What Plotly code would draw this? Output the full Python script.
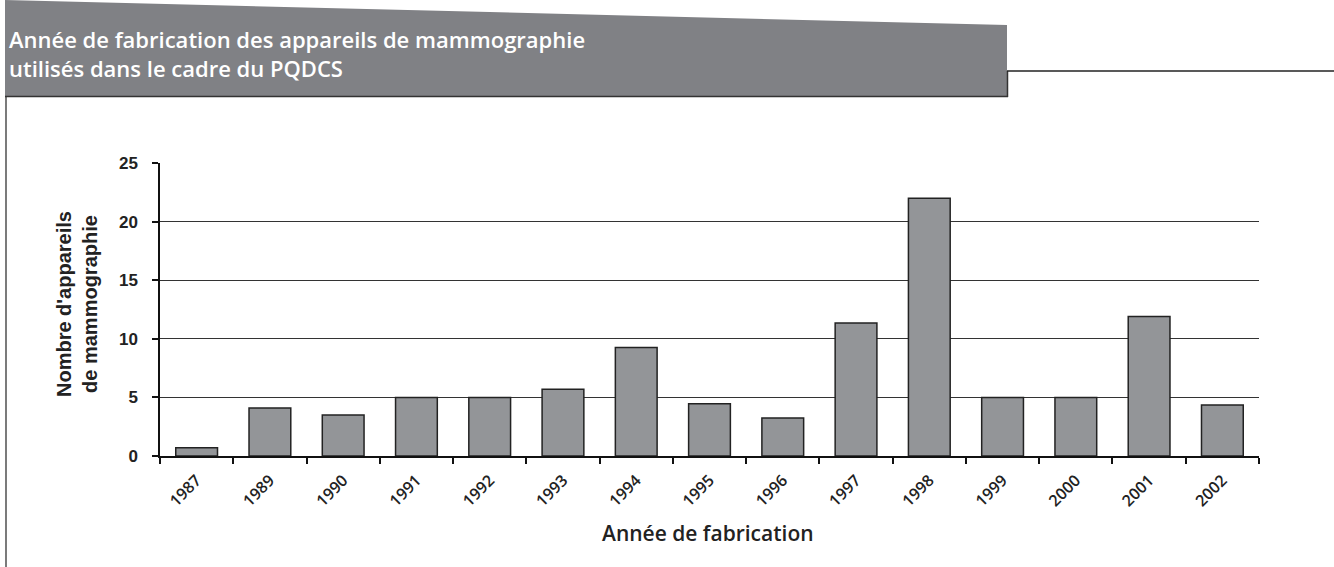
import plotly.graph_objects as go

# ---- data ----
years = ["1987", "1989", "1990", "1991", "1992", "1993", "1994", "1995",
         "1996", "1997", "1998", "1999", "2000", "2001", "2002"]
counts = [0.7, 4.1, 3.5, 5.0, 5.0, 5.7, 9.25, 4.45, 3.25, 11.35, 22.0, 5.0, 5.0, 11.9, 4.35]
y_ticks = [0, 5, 10, 15, 20, 25]

title_text = "Année de fabrication des appareils de mammographie<br>utilisés dans le cadre du PQDCS"
x_title = "Année de fabrication"
y_title = "Nombre d'appareils<br>de mammographie"

W, H = 1334, 567
L, R, T, B = 160, 75, 163, 111
PW, PH = W - L - R, H - T - B


def px(x):
    return (x - L) / PW


def py(y):
    return (H - B - y) / PH


fig = go.Figure()
fig.add_trace(go.Bar(
    x=years, y=counts,
    marker=dict(color="#939598", line=dict(color="#222222", width=1.5)),
    hoverinfo="x+y",
))

shapes = []
# grey header band
shapes.append(dict(type="path", xref="paper", yref="paper",
                   path=f"M {px(5)},{py(0)} L {px(1007)},{py(25)} L {px(1007)},{py(97)} L {px(5)},{py(97)} Z",
                   fillcolor="#808185", line=dict(width=0), layer="below"))
# darker edges of header
shapes.append(dict(type="line", xref="paper", yref="paper",
                   x0=px(5), x1=px(1008), y0=py(96.5), y1=py(96.5),
                   line=dict(color="#333333", width=1.5)))
shapes.append(dict(type="line", xref="paper", yref="paper",
                   x0=px(1007.5), x1=px(1007.5), y0=py(71), y1=py(97),
                   line=dict(color="#333333", width=1.5)))
# horizontal rule to the right
shapes.append(dict(type="line", xref="paper", yref="paper",
                   x0=px(1007), x1=px(1334), y0=py(71), y1=py(71),
                   line=dict(color="#222222", width=1.5)))
# left vertical rule
shapes.append(dict(type="line", xref="paper", yref="paper",
                   x0=px(6), x1=px(6), y0=py(97), y1=py(567),
                   line=dict(color="#222222", width=1.2)))

annotations = [
    dict(text=title_text, xref="paper", yref="paper", x=px(7), y=py(53.5),
         xanchor="left", yanchor="middle", align="left", showarrow=False,
         font=dict(family="Open Sans", size=22, color="white", weight=600)),
    dict(text=x_title, xref="paper", yref="paper", x=px(708), y=py(533),
         xanchor="center", yanchor="middle", showarrow=False,
         font=dict(family="Open Sans", size=21, color="#222222", weight=600)),
    dict(text=y_title, xref="paper", yref="paper", x=px(77), y=py(304),
         xanchor="center", yanchor="middle", showarrow=False, textangle=-90,
         font=dict(family="Liberation Sans", size=20, color="#222222", weight="bold")),
]

fig.update_layout(
    width=W, height=H,
    margin=dict(l=L, r=R, t=T, b=B, autoexpand=False),
    paper_bgcolor="white", plot_bgcolor="white",
    bargap=0.43, showlegend=False,
    shapes=shapes, annotations=annotations,
    xaxis=dict(type="category", showline=True, linecolor="#111111", linewidth=1.5,
               ticks="outside", tickson="boundaries", ticklen=6, tickcolor="#111111",
               tickwidth=1.5, tickangle=-45, ticklabelstandoff=7,
               tickfont=dict(family="Open Sans", size=16, color="#222222", weight=600),
               showgrid=False),
    yaxis=dict(range=[0, 25], tickvals=y_ticks, showline=True, linecolor="#111111",
               linewidth=1.5, ticks="outside", ticklen=6, tickcolor="#111111",
               tickwidth=1.5, showgrid=True, gridcolor="#333333", gridwidth=1,
               zeroline=False, ticklabelstandoff=11,
               tickfont=dict(family="Liberation Sans", size=17, color="#222222", weight="bold")),
)

fig.write_html("out.html", config={"displayModeBar": False},
               post_script="document.body.style.margin='0px';")
